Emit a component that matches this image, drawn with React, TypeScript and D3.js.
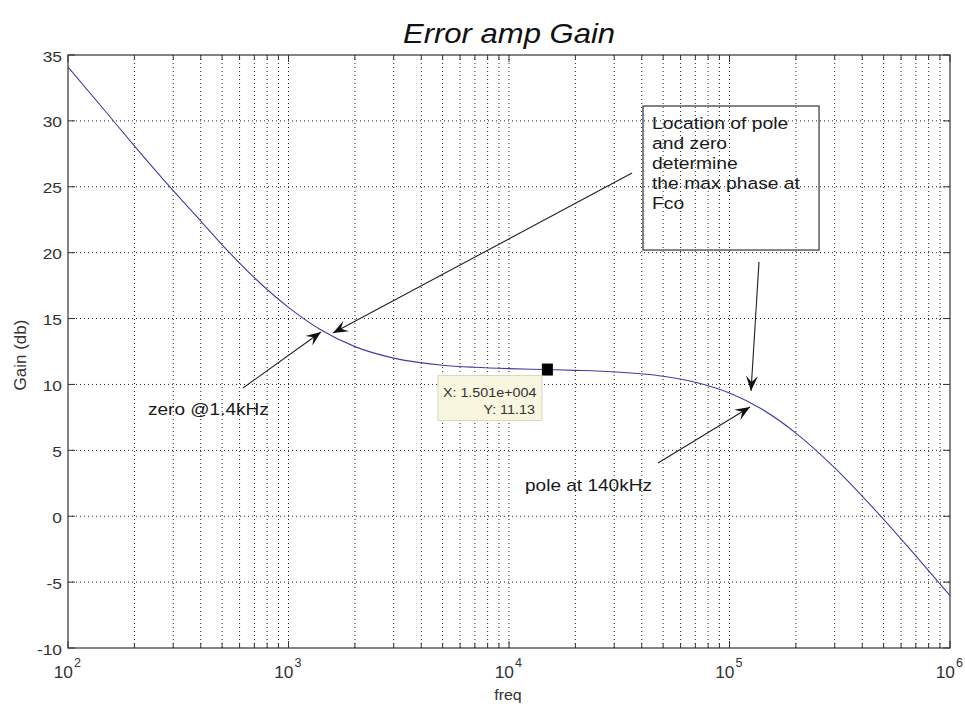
import React, { useEffect } from "react";
import * as d3 from "d3";

// gain curve (Hz, dB)
const freqs = [100, 150, 200, 300, 400, 500, 700, 1000, 1400, 2000, 3000, 5000, 7000, 10000, 15010, 20000, 30000, 50000, 70000, 100000, 140000, 200000, 300000, 500000, 700000, 1000000];
const gains = [34.1, 30.6, 28.1, 24.7, 22.4, 20.6, 18.1, 15.85, 14.15, 12.87, 12.0, 11.46, 11.3, 11.2, 11.13, 11.07, 10.95, 10.62, 10.17, 9.35, 8.13, 6.31, 3.67, -0.24, -3.01, -6.02];

const yTicks = [-10, -5, 0, 5, 10, 15, 20, 25, 30, 35];
const xDecades = [2, 3, 4, 5, 6];

// data tip
const tipFreq = 15010;
const tipGain = 11.13;
const tipLines = ["X: 1.501e+004", "Y: 11.13"];

// annotations, in data units (freq, dB)
const arrowFrom = [[36140, 26.05], [622, 9.73], [136100, 19.3], [47400, 4.04]];
const arrowTo = [[1591, 13.9], [1404, 13.98], [125200, 9.51], [123900, 8.29]];
const noteLines = ["Location of pole", "and zero", "determine", "the max phase at", "Fco"];
const noteBox = [[40530, 31.13], [254700, 20.2]];
const noteStart = [44520, 29.39];
const zeroLabel = { text: "zero @1.4kHz", at: [230.6, 7.69] };
const poleLabel = { text: "pole at 140kHz", at: [11820, 1.92] };

const FONT = "'Liberation Sans', Arial, Helvetica, sans-serif";

const T = ({ x, y, sx = 1.13, children, ...rest }: any) => (
  <text transform={`translate(${x},${y}) scale(${sx},1)`} fontFamily={FONT} {...rest}>
    {children}
  </text>
);

const App = () => {
  useEffect(() => {
    document.body.style.margin = "0";
    document.body.style.overflow = "hidden";
  }, []);

  const W = 965, H = 704;
  const L = 68, R = 950, TOP = 55, B = 648;

  const x = d3.scaleLog().domain([100, 1e6]).range([L, R]);
  const y = d3.scaleLinear().domain([-10, 35]).range([B, TOP]);

  const pts = freqs.map((f, i) => [f, gains[i]] as [number, number]);
  const line = d3.line<[number, number]>()
    .x((d) => x(d[0]))
    .y((d) => y(d[1]))
    .curve(d3.curveMonotoneX);

  const minors: number[] = [];
  xDecades.slice(0, -1).forEach((d) => {
    for (let k = 2; k <= 9; k++) minors.push(k * Math.pow(10, d));
  });
  const majors = xDecades.map((d) => Math.pow(10, d));

  const grid = { stroke: "#222", strokeWidth: 1, strokeDasharray: "1 3" };

  const arrowHead = (x1: number, y1: number, x2: number, y2: number) => {
    const a = Math.atan2(y2 - y1, x2 - x1);
    const len = 15, hw = 6, notch = 9;
    const ux = Math.cos(a), uy = Math.sin(a);
    const px = -uy, py = ux;
    const bx = x2 - ux * len, by = y2 - uy * len;
    const nx = x2 - ux * notch, ny = y2 - uy * notch;
    return `M${x2},${y2}L${bx + px * hw},${by + py * hw}L${nx},${ny}L${bx - px * hw},${by - py * hw}Z`;
  };

  const mx = x(tipFreq), my = y(tipGain);

  return (
    <svg width={W} height={H} style={{ display: "block", background: "#fff" }}>
      {/* title */}
      <T x={509} y={43} sx={1.15} fontSize={27} fontStyle="italic" textAnchor="middle" fill="#111">
        Error amp Gain
      </T>

      {/* grid */}
      {[...majors.slice(1, -1), ...minors].map((f) => (
        <line key={"gx" + f} x1={x(f)} x2={x(f)} y1={TOP} y2={B} {...grid} />
      ))}
      {yTicks.slice(1, -1).map((v) => (
        <line key={"gy" + v} x1={L} x2={R} y1={y(v)} y2={y(v)} {...grid} />
      ))}

      {/* ticks */}
      {majors.map((f) => (
        <g key={"tx" + f} stroke="#333">
          <line x1={x(f)} x2={x(f)} y1={B} y2={B - 7} />
          <line x1={x(f)} x2={x(f)} y1={TOP} y2={TOP + 7} />
        </g>
      ))}
      {minors.map((f) => (
        <g key={"tm" + f} stroke="#333">
          <line x1={x(f)} x2={x(f)} y1={B} y2={B - 5} />
          <line x1={x(f)} x2={x(f)} y1={TOP} y2={TOP + 5} />
        </g>
      ))}
      {yTicks.map((v) => (
        <g key={"ty" + v} stroke="#333">
          <line x1={L} x2={L + 7} y1={y(v)} y2={y(v)} />
          <line x1={R} x2={R - 7} y1={y(v)} y2={y(v)} />
        </g>
      ))}
      <rect x={L} y={TOP} width={R - L} height={B - TOP} fill="none" stroke="#333" strokeWidth={1.2} />

      {/* tick labels */}
      {yTicks.map((v) => (
        <T key={"ly" + v} x={62} y={y(v) + 6.5} sx={1.12} fontSize={15.5} textAnchor="end" fill="#333">
          {v}
        </T>
      ))}
      {xDecades.map((d) => (
        <g key={"lx" + d}>
          <T x={x(Math.pow(10, d)) + 5} y={678} sx={1.05} fontSize={16.5} textAnchor="end" fill="#333">
            10
          </T>
          <T x={x(Math.pow(10, d)) + 6} y={667} sx={1.05} fontSize={12} fill="#333">
            {d}
          </T>
        </g>
      ))}
      <T x={508} y={700} sx={1.1} fontSize={14.5} textAnchor="middle" fill="#333">
        freq
      </T>
      <text transform="translate(26,355) rotate(-90)" fontFamily={FONT} fontSize={17} textAnchor="middle" fill="#333">
        Gain (db)
      </text>

      {/* curve */}
      <path d={line(pts) || ""} fill="none" stroke="#3e3ea6" strokeWidth={1.1} />

      {/* data tip */}
      <rect x={mx - 6} y={my - 6} width={11} height={12} fill="#000" />
      <rect x={mx - 110} y={my + 6} width={104} height={45} fill="#f8f6df" stroke="#d9d7c2" strokeWidth={1} />
      <T x={mx - 105} y={my + 27} sx={1.12} fontSize={12.8} fill="#333">
        {tipLines[0]}
      </T>
      <T x={mx - 13} y={my + 44} sx={1.12} fontSize={12.8} textAnchor="end" fill="#333">
        {tipLines[1]}
      </T>

      {/* annotations */}
      {arrowFrom.map((s, i) => {
        const x1 = x(s[0]), y1 = y(s[1]);
        const x2 = x(arrowTo[i][0]), y2 = y(arrowTo[i][1]);
        return (
          <g key={"ar" + i}>
            <line x1={x1} y1={y1} x2={x2} y2={y2} stroke="#222" strokeWidth={1.1} />
            <path d={arrowHead(x1, y1, x2, y2)} fill="#111" />
          </g>
        );
      })}
      <rect
        x={x(noteBox[0][0])}
        y={y(noteBox[0][1])}
        width={x(noteBox[1][0]) - x(noteBox[0][0])}
        height={y(noteBox[1][1]) - y(noteBox[0][1])}
        fill="none"
        stroke="#333"
        strokeWidth={1.2}
      />
      {noteLines.map((s, i) => (
        <T key={"nl" + i} x={x(noteStart[0])} y={y(noteStart[1]) + i * 20} sx={1.17} fontSize={16.5} fill="#1a1a1a">
          {s}
        </T>
      ))}
      <T x={x(zeroLabel.at[0])} y={y(zeroLabel.at[1])} sx={1.12} fontSize={17} fill="#1a1a1a">
        {zeroLabel.text}
      </T>
      <T x={x(poleLabel.at[0])} y={y(poleLabel.at[1])} sx={1.12} fontSize={17} fill="#1a1a1a">
        {poleLabel.text}
      </T>
    </svg>
  );
};

export default App;
